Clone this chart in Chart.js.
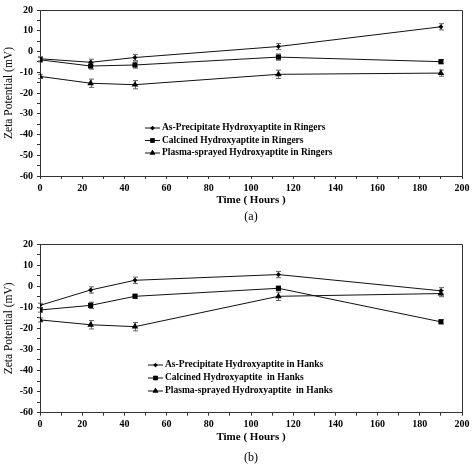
<!DOCTYPE html>
<html>
<head>
<meta charset="utf-8">
<script src="https://cdn.jsdelivr.net/npm/chart.js@4/dist/chart.umd.min.js"></script>
<style>
  html, body { margin: 0; padding: 0; background: #fff; }
  .wrap { position: absolute; left: 0; width: 474px; height: 234px; }
</style>
</head>
<body>
<div class="wrap" style="top:0"><canvas id="c1" width="474" height="234"></canvas></div>
<div class="wrap" style="top:234px"><canvas id="c2" width="474" height="234"></canvas></div>
<script>
// ---- data ----
const hours = [0, 24, 45, 113, 190];

const ringersLabels = [
  'As-Precipitate Hydroxyaptite in Ringers',
  'Calcined Hydroxyaptite in Ringers',
  'Plasma-sprayed Hydroxyaptite in Ringers'
];
const ringersAsPrecip = [-3.5, -5.2, -2.9, 2.4, 11.9];
const ringersCalcined = [-4.0, -7.0, -6.5, -2.7, -4.9];
const ringersPlasma   = [-12.0, -15.3, -16.0, -11.0, -10.4];
const ringersAsPrecipErr = [1.0, 1.5, 1.5, 1.5, 1.5];
const ringersCalcinedErr = [1.0, 1.5, 1.5, 1.5, 1.0];
const ringersPlasmaErr   = [1.0, 2.0, 2.0, 2.0, 1.5];

const hanksLabels = [
  'As-Precipitate Hydroxyaptite in Hanks',
  'Calcined Hydroxyaptite  in Hanks',
  'Plasma-sprayed Hydroxyaptite  in Hanks'
];
const hanksAsPrecip = [-9.1, -1.8, 2.8, 5.5, -2.2];
const hanksCalcined = [-11.3, -9.1, -4.8, -1.0, -16.9];
const hanksPlasma   = [-16.0, -18.3, -19.2, -4.8, -3.5];
const hanksAsPrecipErr = [1.0, 1.5, 1.5, 1.5, 1.5];
const hanksCalcinedErr = [1.0, 1.5, 1.0, 1.0, 1.0];
const hanksPlasmaErr   = [1.0, 2.0, 2.0, 2.0, 1.5];

const yTicksMin = -60, yTicksMax = 20, yMajor = 10, yMinor = 5;
const xTicksMin = 0, xTicksMax = 200, xMajor = 20, xMinor = 10;

const markerStyles = ['rectRot', 'rect', 'triangle'];
const markerRadius = [2.5, 3.6, 3.8];

const SERIF = '"Liberation Serif", "Times New Roman", serif';

function toPoints(vals) { return hours.map((h, i) => ({ x: h, y: vals[i] })); }

const decorPlugin = {
  id: 'decor',
  beforeDatasetsDraw(chart) {
    const ctx = chart.ctx;
    const xs = chart.scales.x, ys = chart.scales.y;
    ctx.save();
    ctx.strokeStyle = '#666';
    ctx.lineWidth = 1;
    chart.data.datasets.forEach(ds => {
      ds.errors.forEach((e, i) => {
        const p = ds.data[i];
        const px = Math.round(xs.getPixelForValue(p.x)) + 0.5;
        const y1 = ys.getPixelForValue(p.y + e);
        const y2 = ys.getPixelForValue(p.y - e);
        ctx.beginPath();
        ctx.moveTo(px, y1); ctx.lineTo(px, y2);
        ctx.moveTo(px - 2.5, y1); ctx.lineTo(px + 2.5, y1);
        ctx.moveTo(px - 2.5, y2); ctx.lineTo(px + 2.5, y2);
        ctx.stroke();
      });
    });
    ctx.restore();
  },
  afterDatasetsDraw(chart, args, opts) {
    const ctx = chart.ctx;
    ctx.save();
    const a = chart.chartArea;
    ctx.strokeStyle = '#333';
    ctx.lineWidth = 1;
    ctx.beginPath();
    ctx.moveTo(Math.round(a.left) + 0.5, Math.round(a.top) + 0.5);
    ctx.lineTo(Math.round(a.right) + 0.5, Math.round(a.top) + 0.5);
    ctx.lineTo(Math.round(a.right) + 0.5, Math.round(a.bottom) + 0.5);
    ctx.stroke();
    // legend
    const L = opts.legend;
    ctx.font = 'bold 9.5px ' + SERIF;
    ctx.textBaseline = 'middle';
    ctx.textAlign = 'left';
    chart.data.datasets.forEach((ds, i) => {
      const y = L.y + i * L.dy;
      ctx.strokeStyle = '#111';
      ctx.beginPath();
      ctx.moveTo(L.x, y); ctx.lineTo(L.x + 15, y);
      ctx.stroke();
      ctx.fillStyle = '#000';
      Chart.helpers.drawPoint(ctx, { pointStyle: ds.pointStyle, radius: ds.pointRadius * 0.85, borderWidth: 0 }, L.x + 7.5, y);
      ctx.fill();
      ctx.fillStyle = '#000';
      ctx.fillText(ds.label, L.x + 17, y);
    });
    // caption
    ctx.font = '12px ' + SERIF;
    ctx.textAlign = 'center';
    ctx.fillText(opts.caption, (a.left + a.right) / 2, opts.captionY);
    ctx.restore();
  }
};

function makeChart(id, labels, series, errs, cfg) {
  const datasets = series.map((vals, i) => ({
    label: labels[i],
    data: toPoints(vals),
    errors: errs[i],
    borderColor: '#111',
    backgroundColor: '#000',
    borderWidth: 1,
    pointStyle: markerStyles[i],
    pointRadius: markerRadius[i],
    pointBorderWidth: 0,
    pointBackgroundColor: '#000',
    tension: 0,
    fill: false
  }));
  return new Chart(document.getElementById(id), {
    type: 'line',
    data: { datasets },
    plugins: [decorPlugin],
    options: {
      responsive: false,
      animation: false,
      events: [],
      layout: { padding: { left: 0, right: 12, top: cfg.top, bottom: cfg.bottom } },
      plugins: {
        legend: { display: false },
        tooltip: { enabled: false },
        decor: { legend: cfg.legend, caption: cfg.caption, captionY: cfg.captionY }
      },
      scales: {
        x: {
          type: 'linear',
          min: xTicksMin, max: xTicksMax,
          afterFit(s) { s.height = cfg.xHeight; },
          border: { display: true, color: '#333', width: 1 },
          grid: { display: true, drawOnChartArea: false, drawTicks: true, tickLength: 3, color: '#333' },
          ticks: {
            stepSize: xMinor, autoSkip: false, maxRotation: 0, padding: 3,
            color: '#000',
            font: { family: SERIF, size: 10, weight: 'bold' },
            callback: v => (v % xMajor === 0 ? v : '')
          },
          title: {
            display: true, text: 'Time ( Hours )', color: '#000',
            font: { family: SERIF, size: 11, weight: 'bold' },
            padding: { top: 0, bottom: 0 }
          }
        },
        y: {
          type: 'linear',
          min: yTicksMin, max: yTicksMax,
          afterFit(s) { s.width = 40; },
          border: { display: true, color: '#333', width: 1 },
          grid: { display: true, drawOnChartArea: false, drawTicks: true, tickLength: 3, color: '#333' },
          ticks: {
            stepSize: yMinor, autoSkip: false, padding: 4,
            color: '#000',
            font: { family: SERIF, size: 10, weight: 'bold' },
            callback: v => (v % yMajor === 0 ? v : '')
          },
          title: {
            display: true, text: 'Zeta Potential (mV)', color: '#000',
            font: { family: SERIF, size: 11.5 },
            padding: { top: 2, bottom: 0 }
          }
        }
      }
    }
  });
}

makeChart('c1', ringersLabels,
  [ringersAsPrecip, ringersCalcined, ringersPlasma],
  [ringersAsPrecipErr, ringersCalcinedErr, ringersPlasmaErr],
  { top: 5, bottom: 27.5, xHeight: 30.5,
    legend: { x: 145, y: 128, dy: 12.5 }, caption: '(a)', captionY: 217 });

makeChart('c2', hanksLabels,
  [hanksAsPrecip, hanksCalcined, hanksPlasma],
  [hanksAsPrecipErr, hanksCalcinedErr, hanksPlasmaErr],
  { top: 7.7, bottom: 24.5, xHeight: 30.8,
    legend: { x: 148, y: 131, dy: 13 }, caption: '(b)', captionY: 224 });
</script>
</body>
</html>
